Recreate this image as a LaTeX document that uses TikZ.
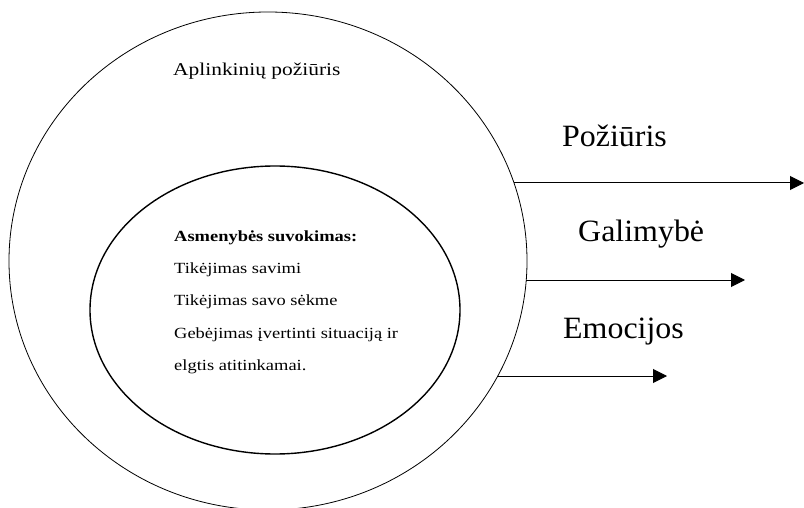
\documentclass[tikz,border=0pt]{standalone}
\usepackage{fontspec}
\setmainfont{Liberation Serif}
\usetikzlibrary{arrows.meta,shapes.geometric}

\tikzset{
  ring/.style={draw, ellipse, inner sep=0pt, line width=0.8pt},
  core/.style={draw, ellipse, inner sep=0pt, line width=1.4pt},
  small/.style={anchor=base west, inner sep=0pt, xscale=1.19, transform shape,
                font=\fontsize{15.5}{18}\selectfont},
  big/.style={anchor=base west, inner sep=0pt, xscale=1.03, transform shape,
              font=\fontsize{31}{36}\selectfont},
  flow/.style={line width=1pt, -{Triangle[length=14pt,width=14pt]}}
}

\begin{document}
\begin{tikzpicture}[x=1pt, y=-1pt]
  \useasboundingbox (0,0) rectangle (804,508);

  % outer and inner rings
  \node[ring, minimum width=518pt, minimum height=498pt] (outer) at (268,261) {};
  \node[core, minimum width=370pt, minimum height=288pt] (inner) at (275,310) {};

  % labels inside the rings
  \node[small, font=\fontsize{18}{21}\selectfont] (env) at (173,76) {Aplinkinių požiūris};
  \node[small, font=\fontsize{15.5}{18}\selectfont\bfseries] (t0) at (174,241.7) {Asmenybės suvokimas:};
  \node[small] (t1) at (174,273.5) {Tikėjimas savimi};
  \node[small] (t2) at (174,305.8) {Tikėjimas savo sėkme};
  \node[small] (t3) at (174,338) {Gebėjimas įvertinti situaciją ir};
  \node[small] (t4) at (174,370.2) {elgtis atitinkamai.};

  % outgoing arrows and their captions
  \coordinate (s1) at (514,183);
  \coordinate (e1) at (804,183);
  \coordinate (s2) at (526,280);
  \coordinate (e2) at (745,280);
  \coordinate (s3) at (497,376);
  \coordinate (e3) at (667,376);
  \draw[flow] (s1) -- (e1);
  \draw[flow] (s2) -- (e2);
  \draw[flow] (s3) -- (e3);

  \node[big] (p1) at (562,146.5) {Požiūris};
  \node[big] (p2) at (578,241.7) {Galimybė};
  \node[big] (p3) at (563,338.3) {Emocijos};
\end{tikzpicture}
\end{document}
